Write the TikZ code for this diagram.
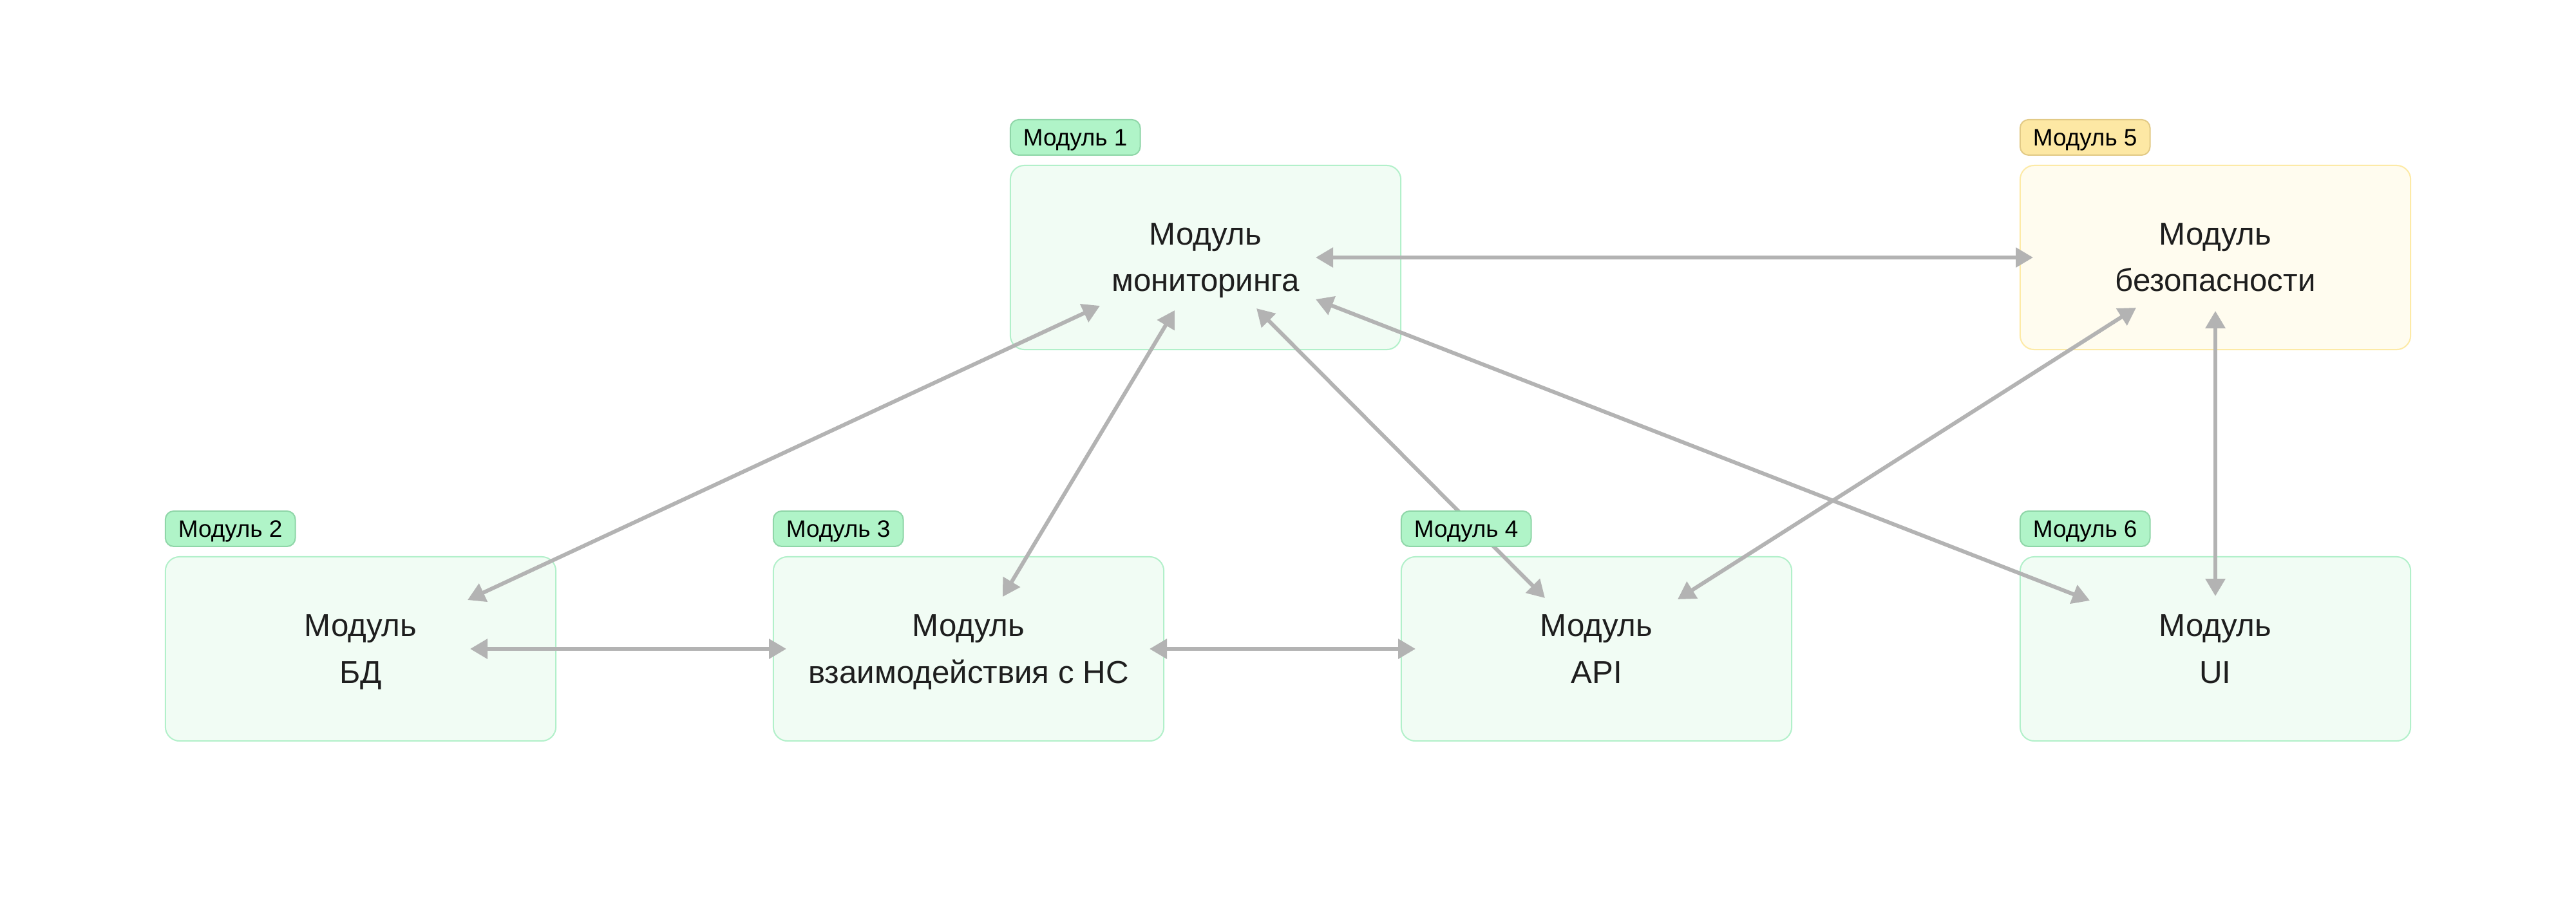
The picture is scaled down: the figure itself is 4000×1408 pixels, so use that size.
\documentclass[tikz,border=0pt]{standalone}
\usepackage{fontspec}
\setmainfont{Liberation Sans}
\usetikzlibrary{arrows.meta,calc}
\definecolor{gfill}{HTML}{F1FCF4}
\definecolor{gline}{HTML}{B2F0CA}
\definecolor{gtag}{HTML}{B0F4C8}
\definecolor{gtagline}{HTML}{8FD6A8}
\definecolor{yfill}{HTML}{FFFCEF}
\definecolor{yline}{HTML}{FDEAA6}
\definecolor{ytag}{HTML}{FDE8A4}
\definecolor{ytagline}{HTML}{E2CA86}
\definecolor{arr}{HTML}{B3B3B3}
\definecolor{txt}{HTML}{1E1E1E}
\begin{document}
\begin{tikzpicture}[x=0.01cm,y=-0.01cm,
  modbox/.style={draw=gline, fill=gfill, line width=0.02cm, rounded corners=0.22cm,
    minimum width=6.06cm, minimum height=2.86cm, inner sep=0pt, align=center,
    text depth=0pt, text=txt, font=\fontsize{14}{20.5}\selectfont},
  ymodbox/.style={modbox, draw=yline, fill=yfill},
  tagbox/.style={draw=gtagline, fill=gtag, line width=0.02cm, rounded corners=0.13cm,
    minimum height=0.55cm, inner xsep=0.2cm, inner ysep=0pt, text depth=0pt, text=black,
    font=\fontsize{10.5}{12}\selectfont, anchor=south west},
  ytagbox/.style={tagbox, draw=ytagline, fill=ytag},
  link/.style={draw=arr, line width=0.06cm, {Triangle[length=0.27cm,width=0.3cm]}-{Triangle[length=0.27cm,width=0.3cm]}}
]
\useasboundingbox (0,0) rectangle (4000,1408);
\fill[white] (0,0) rectangle (4000,1408);

% boxes
\node[modbox]  (m1) at (1872,400)  {Модуль\\мониторинга};
\node[ymodbox] (m5) at (3440,400)  {Модуль\\безопасности};
\node[modbox]  (m2) at (560,1008)  {Модуль\\БД};
\node[modbox]  (m3) at (1504,1008) {Модуль\\взаимодействия с НС};
\node[modbox]  (m4) at (2479,1008) {Модуль\\API};
\node[modbox]  (m6) at (3440,1008) {Модуль\\UI};

% connectors
\draw[link] ($(m1.center)+(171,0)$) -- ($(m5.center)+(-283,0)$);
\draw[link] ($(m1.center)+(-164,75)$) -- ($(m2.center)+(166,-76)$);
\draw[link] ($(m1.center)+(-48,82)$) -- ($(m3.center)+(53,-81)$);
\draw[link] ($(m1.center)+(79,79)$) -- ($(m4.center)+(-80,-79)$);
\draw[link] ($(m1.center)+(171,65)$) -- ($(m6.center)+(-195,-75)$);
\draw[link] ($(m5.center)+(-123,78)$) -- ($(m4.center)+(126,-77)$);
\draw[link] ($(m5.center)+(0,83)$) -- ($(m6.center)+(0,-82)$);
\draw[link] ($(m2.center)+(170,0)$) -- ($(m3.center)+(-283,0)$);
\draw[link] ($(m3.center)+(281,0)$) -- ($(m4.center)+(-281,0)$);

% tags
\node[tagbox]  (t1) at ($(m1.north west)+(0,-14)$) {Модуль 1};
\node[ytagbox] (t5) at ($(m5.north west)+(0,-14)$) {Модуль 5};
\node[tagbox]  (t2) at ($(m2.north west)+(0,-14)$) {Модуль 2};
\node[tagbox]  (t3) at ($(m3.north west)+(0,-14)$) {Модуль 3};
\node[tagbox]  (t4) at ($(m4.north west)+(0,-14)$) {Модуль 4};
\node[tagbox]  (t6) at ($(m6.north west)+(0,-14)$) {Модуль 6};
\end{tikzpicture}
\end{document}
